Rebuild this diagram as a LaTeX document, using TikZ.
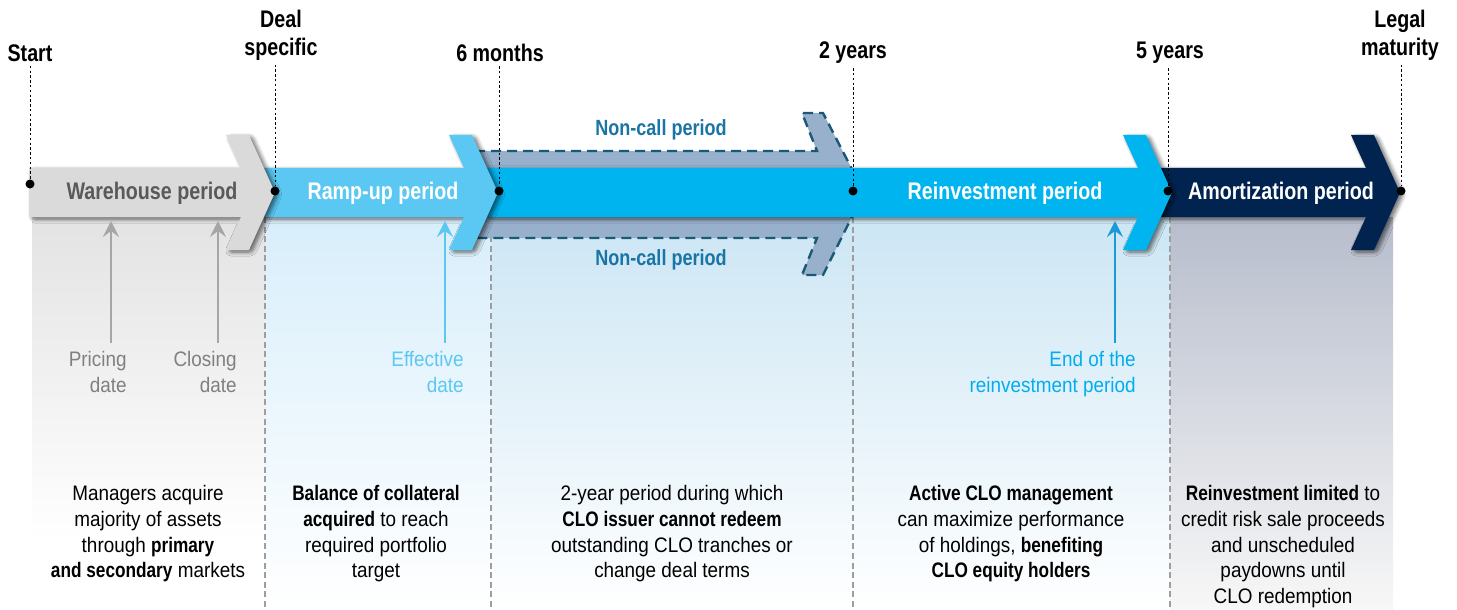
\documentclass[tikz,border=0pt]{standalone}
\usepackage{fontspec}
\setmainfont{Liberation Sans}[FakeStretch=0.9, BoldFeatures={FakeStretch=0.82}]
\usetikzlibrary{arrows.meta, positioning, calc, shadows.blur}
\definecolor{whfill}{HTML}{DADADA}
\definecolor{whtext}{HTML}{58595B}
\definecolor{rampfill}{HTML}{5BC8F3}
\definecolor{reinvfill}{HTML}{00B4EF}
\definecolor{amortfill}{HTML}{00244F}
\definecolor{ncfill}{HTML}{97B1CD}
\definecolor{ncline}{HTML}{1B5876}
\definecolor{nctext}{HTML}{1A75A6}
\definecolor{dategray}{HTML}{A6A6A6}
\definecolor{datetext}{HTML}{808080}
\definecolor{endblue}{HTML}{1A9BD7}
\definecolor{endtext}{HTML}{00AEEF}
\definecolor{panelblue}{HTML}{CCE6F4}
\definecolor{panelramp}{HTML}{D8EEFB}
\definecolor{panelamort}{HTML}{B7BDCC}
\tikzset{%
	period/.style={blur shadow={shadow blur steps=6, shadow xshift=1.5pt,
		shadow yshift=-1pt, shadow opacity=60, shadow blur extra rounding=1.5pt}},
	plabel/.style={font=\fontsize{12}{14}\selectfont\bfseries, text=white},
	toplbl/.style={font=\fontsize{12}{14}\selectfont\bfseries, align=center, inner sep=2pt},
	dot/.style={circle, fill=black, inner sep=0mm, minimum size=4.5pt},
	tick/.style={dash pattern=on 1.2pt off 1.2pt, line width=0.5pt},
	border/.style={dash pattern=on 3pt off 1.8pt, line width=0.8pt, draw=black!38},
	datearrow/.style={line width=1.2pt, -{Stealth[length=8pt, width=8pt, inset=3pt]}},
	datelbl/.style={anchor=north east, align=right, inner sep=0mm,
		font=\fontsize{10.5}{13}\selectfont},
	desc/.style={anchor=north, align=center, inner sep=0mm,
		font=\fontsize{10.5}{12.85}\selectfont},
	nclbl/.style={font=\fontsize{11}{12}\selectfont\bfseries, text=nctext}
}
% chevron arrow: #1 = left end of the band, #2 = tip, #3 = fill
\newcommand{\periodarrow}[3]{%
	\path[period, fill=#3] (#1,168) -- ({#2-34},168) -- ({#2-49},135) -- ({#2-26},135)
		-- (#2,192.5) -- ({#2-26},250) -- ({#2-49},250) -- ({#2-34},217) -- (#1,217) -- cycle;}

\begin{document}
\begin{tikzpicture}[x=0.5pt, y=-0.5pt]
	\useasboundingbox (0,0) rectangle (1457,610);

	% shaded panels under each period
	\shade[top color=black!11, bottom color=white] (32,217) rectangle (265,540);
	\shade[top color=panelramp, bottom color=white] (265,217) rectangle (491,610);
	\shade[top color=panelblue, bottom color=white] (491,217) rectangle (1170,610);
	\shade[top color=panelamort, bottom color=black!3] (1170,217) rectangle (1393,610);
	\foreach \x in {265, 491, 853, 1170}
		\draw[border] (\x,217) -- (\x,610);

	% non-call period, behind the timeline
	\path[fill=ncfill] (475,151) -- (817,151) -- (802,113) -- (823,113) -- (864,192.5)
		-- (823,275) -- (802,275) -- (817,238) -- (475,238) -- cycle;
	\draw[ncline, dash pattern=on 5pt off 3pt, line width=1.2pt] (475,151) -- (817,151)
		-- (802,113) -- (823,113) -- (864,192.5) -- (823,275) -- (802,275) -- (817,238) -- (475,238);
	\node[nclbl] (ncup) at (661,130) {Non-call period};
	\node[nclbl] (nclow) at (661,260) {Non-call period};

	% periods, right to left so each tip lies on the next band
	\periodarrow{1160}{1400}{amortfill}
	\periodarrow{485}{1172}{reinvfill}
	\periodarrow{262}{498}{rampfill}
	\periodarrow{29}{275}{whfill}

	\node[plabel, text=whtext] (warehouse) at (152,193) {Warehouse period};
	\node[plabel] (rampup) at (383,193) {Ramp-up period};
	\node[plabel] (reinvest) at (1005,193) {Reinvestment period};
	\node[plabel] (amort) at (1281,193) {Amortization period};

	% milestones
	\node[dot] (start) at (30,184) {};
	\node[dot] (deal) at (275,191) {};
	\node[dot] (sixm) at (499,191) {};
	\node[dot] (twoy) at (853,191) {};
	\node[dot] (fivey) at (1168,191) {};
	\node[dot] (legal) at (1401,191) {};

	\node[toplbl] (startlbl) at (30,53) {Start};
	\node[toplbl] (deallbl) at (281,35) {Deal\\specific};
	\node[toplbl] (sixmlbl) at (500,53) {6 months};
	\node[toplbl] (twoylbl) at (853,53) {2 years};
	\node[toplbl] (fiveylbl) at (1170,53) {5 years};
	\node[toplbl] (legallbl) at (1400,35) {Legal\\maturity};

	\draw[tick] (startlbl.south -| start) -- (start);
	\draw[tick] (deallbl.south -| deal) -- (deal);
	\draw[tick] (sixmlbl.south -| sixm) -- (sixm);
	\draw[tick] (twoylbl.south -| twoy) -- (twoy);
	\draw[tick] (fiveylbl.south -| fivey) -- (fivey);
	\draw[tick] (legallbl.south -| legal) -- (legal);

	% dates pointing at the timeline
	\coordinate (pricetip) at (111,221);
	\coordinate (closetip) at (218,221);
	\coordinate (efftip) at (445,221);
	\coordinate (endtip) at (1115,221);
	\node[datelbl, text=datetext] (pricing) at (127,351) {Pricing\\date};
	\node[datelbl, text=datetext] (closing) at (237,351) {Closing\\date};
	\node[datelbl, text=rampfill] (effective) at (464,351) {Effective\\date};
	\node[datelbl, text=endtext] (endreinv) at (1136,351) {End of the\\reinvestment period};
	\draw[datearrow, dategray] ($(pricing.north -| pricetip)+(0,-8)$) -- (pricetip);
	\draw[datearrow, dategray] ($(closing.north -| closetip)+(0,-8)$) -- (closetip);
	\draw[datearrow, rampfill] ($(effective.north -| efftip)+(0,-8)$) -- (efftip);
	\draw[datearrow, endblue] ($(endreinv.north -| endtip)+(0,-8)$) -- (endtip);

	% what happens in each period
	\node[desc] (whdesc) at (148,485) {Managers acquire\\majority of assets\\through \textbf{primary}\\\textbf{and secondary} markets};
	\node[desc] (rampdesc) at (376,485) {\textbf{Balance of collateral}\\\textbf{acquired} to reach\\required portfolio\\target};
	\node[desc] (ncdesc) at (672,485) {2-year period during which\\\textbf{CLO issuer cannot redeem}\\outstanding CLO tranches or\\change deal terms};
	\node[desc] (reinvdesc) at (1011,485) {\textbf{Active CLO management}\\can maximize performance\\of holdings, \textbf{benefiting}\\\textbf{CLO equity holders}};
	\node[desc] (amortdesc) at (1283,485) {\textbf{Reinvestment limited} to\\credit risk sale proceeds\\and unscheduled\\paydowns until\\CLO redemption};
\end{tikzpicture}
\end{document}
